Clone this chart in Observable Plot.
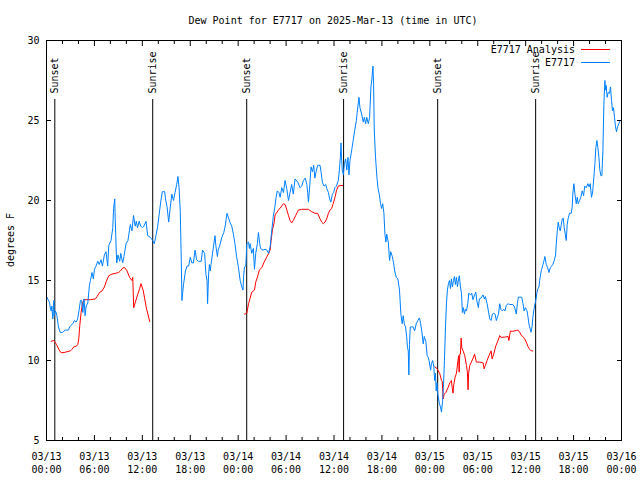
<!DOCTYPE html>
<html><head><meta charset="utf-8">
<script src="https://cdn.jsdelivr.net/npm/d3@7"></script>
<script src="https://cdn.jsdelivr.net/npm/@observablehq/plot@0.6"></script>
<style>body{margin:0;background:#fff}</style>
</head><body><div id="chart"></div>
<script>
const titleText = "Dew Point for E7717 on 2025-Mar-13 (time in UTC)";
const yLabelText = "degrees F";
const seriesNames = ["E7717 Analysis", "E7717"];
const seriesColors = ["#ff0000", "#0080ff"];

// hours since 2025-03-13 00:00 UTC, dew point (F)
const obsHours = [0,0.2,0.375,0.5,0.58,0.67,0.79,0.92,0.96,1.1,1.2,1.3,1.5,1.7,2.0,2.33,2.75,2.9,3.08,3.3,3.5,3.7,3.9,4.1,4.25,4.4,4.55,4.7,4.83,4.96,5.17,5.375,5.5,5.7,5.87,6.0,6.2,6.42,6.6,6.83,7.0,7.25,7.45,7.66,7.8,8.08,8.3,8.4,8.55,8.6,8.75,8.8,8.95,9.17,9.3,9.54,9.7,9.96,10.2,10.375,10.5,10.7,10.9,11.1,11.25,11.4,11.6,11.8,12.0,12.2,12.46,12.67,13.0,13.3,13.5,13.7,13.9,14.1,14.3,14.5,14.8,14.9,15.1,15.3,15.5,15.7,15.9,16.1,16.3,16.46,16.6,16.75,16.875,16.96,17.04,17.17,17.4,17.6,17.8,18.0,18.2,18.4,18.6,18.8,19.04,19.375,19.54,19.8,19.96,20.1,20.17,20.3,20.4,20.5,20.6,20.9,21.1,21.2,21.4,21.5,21.7,21.96,22.2,22.375,22.6,22.8,23.0,23.2,23.4,23.6,23.8,24.04,24.25,24.46,24.6,24.7,24.8,24.96,25.08,25.3,25.4,25.5,25.7,25.9,26.04,26.2,26.4,26.54,26.7,26.8,27.1,27.375,27.6,27.8,28.0,28.2,28.4,28.6,28.75,28.9,29.1,29.25,29.46,29.67,29.875,30.08,30.3,30.5,30.7,30.9,31.125,31.46,31.75,31.96,32.17,32.4,32.6,32.7,32.8,32.96,33.125,33.3,33.46,33.6,33.8,33.96,34.25,34.375,34.54,34.75,34.96,35.1,35.3,35.46,35.6,35.8,35.96,36.1,36.3,36.54,36.67,36.8,36.875,36.96,37.04,37.17,37.3,37.46,37.6,37.75,37.875,38.0,38.2,38.4,38.6,38.8,38.9,39.125,39.25,39.46,39.67,39.8,39.96,40.1,40.3,40.46,40.625,40.75,40.875,40.96,41.04,41.2,41.375,41.5,41.67,41.83,41.96,42.1,42.25,42.375,42.5,42.6,42.8,42.96,43.1,43.3,43.46,43.6,43.8,44.0,44.2,44.375,44.54,44.67,44.8,44.96,45.1,45.2,45.3,45.375,45.45,45.55,45.7,45.9,46.1,46.3,46.5,46.7,46.85,47.0,47.17,47.3,47.5,47.67,47.8,47.9,48.1,48.2,48.35,48.5,48.6,48.7,48.8,48.9,49.0,49.2,49.33,49.46,49.6,49.7,49.83,49.96,50.08,50.2,50.33,50.46,50.58,50.7,50.83,50.96,51.08,51.2,51.33,51.46,51.6,51.7,51.83,51.96,52.08,52.2,52.33,52.45,52.58,52.75,52.875,53.1,53.25,53.4,53.6,53.75,53.9,54.08,54.2,54.4,54.67,54.83,54.96,55.17,55.33,55.5,55.67,55.83,56.0,56.17,56.33,56.45,56.6,56.75,56.9,57.08,57.25,57.4,57.58,57.8,58.0,58.4,58.6,58.83,58.96,59.08,59.3,59.5,59.67,59.8,59.96,60.17,60.3,60.4,60.5,60.67,60.8,60.9,61.04,61.17,61.3,61.42,61.54,61.67,61.75,61.875,62.0,62.17,62.3,62.4,62.58,62.75,62.92,63.08,63.25,63.4,63.58,63.75,63.83,63.96,64.08,64.2,64.33,64.46,64.58,64.7,64.83,64.96,65.08,65.2,65.33,65.5,65.7,65.83,65.9,66.04,66.17,66.33,66.46,66.58,66.75,66.9,67.08,67.25,67.4,67.58,67.79,67.95,68.08,68.25,68.4,68.54,68.67,68.79,68.92,69.04,69.17,69.29,69.42,69.54,69.67,69.79,69.92,70.0,70.08,70.2,70.33,70.5,70.625,70.75,70.875,71.0,71.125,71.25,71.375,71.5,71.67,71.83,72.0];
const obsValues = [14.0,13.8,13.65,13.2,13.1,13.4,12.6,13.75,12.8,13.1,13.0,12.8,12.1,11.77,11.75,11.9,11.9,12.1,12.2,12.3,12.5,12.4,12.6,13.2,13.75,13.75,13.0,13.85,12.8,13.4,13.6,14.7,15.0,15.5,15.1,15.7,15.9,16.2,16.0,16.3,15.9,16.6,16.8,15.9,17.2,17.5,18.3,19.5,20.1,18.9,16.6,16.1,16.6,16.2,16.7,16.1,16.5,17.3,17.5,18.1,18.5,18.1,19.06,18.4,18.7,18.3,18.7,18.4,18.3,18.4,18.7,17.8,17.7,17.5,17.3,17.8,18.3,19.1,19.9,20.55,20.55,20.1,19.6,18.65,19.6,20.4,20.0,20.5,21.0,21.5,20.8,19.3,16.25,13.75,14.2,14.8,15.6,15.9,15.9,16.45,16.1,16.1,16.9,16.3,16.2,16.2,16.9,16.7,15.4,15.0,13.55,15.4,16.0,15.6,16.0,17.1,17.8,17.2,16.5,16.9,17.2,17.7,18.0,18.4,19.2,18.9,18.6,18.4,17.9,17.3,16.5,15.8,15.0,14.6,14.4,15.4,15.85,15.9,17.3,17.4,17.0,17.3,16.7,17.0,15.7,16.7,17.3,18.0,17.3,17.0,16.9,16.95,16.9,16.7,17.1,18.1,19.0,19.6,20.2,20.6,20.5,20.2,20.8,20.5,21.25,20.75,20.0,20.5,21.0,20.4,21.35,21.15,20.8,20.9,21.25,21.4,21.0,20.5,19.9,20.9,22.1,21.8,22.2,21.4,21.9,22.2,22.2,21.8,21.15,20.9,21.0,20.75,20.5,20.1,19.9,20.4,20.5,20.8,20.9,21.25,21.9,22.7,23.6,22.5,21.9,21.6,22.3,22.6,21.9,22.7,21.6,22.5,23.1,23.75,24.4,25.0,25.5,26.45,25.8,25.4,24.9,25.2,24.8,25.2,24.8,25.2,27.1,27.6,28.4,27.25,24.4,22.7,21.45,20.8,20.4,19.8,19.5,19.8,19.2,17.9,17.4,17.9,17.4,16.25,16.8,16.5,16.1,15.6,15.2,15.1,14.4,12.9,12.3,12.8,12.3,12.1,11.5,10.8,10.6,9.1,11.0,12.1,12.1,12.1,11.85,12.3,12.5,12.66,12.3,11.8,11.04,11.5,11.2,10.3,10.2,10.0,9.4,9.8,10.0,9.6,8.75,9.2,8.1,8.6,7.9,7.3,7.1,6.77,7.5,8.3,10.0,12.1,13.55,14.4,14.8,15.0,14.5,15.1,14.6,15.0,15.25,14.75,15.2,14.6,15.1,15.3,14.6,14.2,13.0,13.3,12.9,13.2,13.1,13.55,14.2,14.1,14.2,13.8,14.1,14.27,13.7,13.3,13.85,13.9,14.1,13.85,14.0,13.55,13.1,12.6,12.5,12.9,12.95,12.9,12.5,12.7,12.9,13.55,13.2,13.1,13.2,13.1,13.45,13.55,13.5,13.5,13.35,12.9,13.55,13.96,13.96,13.96,13.55,13.1,13.3,13.1,12.7,12.3,12.1,11.77,12.1,12.7,13.2,13.55,13.85,14.27,14.48,14.6,15.0,15.4,15.7,16.0,16.25,16.5,16.0,15.8,15.5,15.8,15.9,16.0,16.25,16.6,17.3,18.1,18.65,18.3,18.1,18.5,18.85,18.9,18.3,17.9,17.5,18.5,18.9,19.2,19.2,19.6,20.4,21.05,20.4,19.8,20.2,19.8,20.0,20.2,20.6,20.3,20.9,20.8,21.05,20.85,21.05,20.2,20.6,21.45,22.3,23.3,23.75,23.3,22.7,21.9,21.55,21.55,23.1,26.0,27.5,26.9,27.2,26.45,26.75,26.7,27.1,26.25,25.6,25.8,25.2,24.6,24.3,24.6,24.8,25.0,25.0];

// analysis: three separate runs
const anaRun = [1,1,1,1,1,1,1,1,1,1,1,1,1,1,1,1,1,1,1,1,1,1,1,1,1,1,1,1,1,1,1,1,1,1,1,1,1,1,1,1,1,1,1,1,1,
  2,2,2,2,2,2,2,2,2,2,2,2,2,2,2,2,2,2,2,2,2,2,2,2,2,2,2,2,2,2,2,2,2,2,2,2,2,2,2,2,2,2,2,2,2,2,2,2,2,
  3,3,3,3,3,3,3,3,3,3,3,3,3,3,3,3,3,3,3,3,3,3,3,3,3,3,3,3,3,3,3,3,3,3,3,3,3,3,3,3,3,3,3,3,3,3,3,3,3,3,3,3,3,3,3,3,3,3,3,3,3,3,3,3];
const anaHours = [0.58,0.92,1.25,1.54,1.83,2.2,2.58,3.0,3.2,3.42,3.75,3.92,4.04,4.17,4.33,4.5,4.67,5.08,5.5,6.125,6.33,6.67,6.96,7.25,7.5,7.8,8.2,8.625,9.04,9.25,9.58,9.8,10.08,10.4,10.7,10.8,10.92,11.1,11.4,11.67,11.83,12.1,12.3,12.5,12.92,
  24.8,25.08,25.3,25.5,25.7,26.04,26.2,26.4,26.67,26.96,27.25,27.5,27.8,28.0,28.125,28.3,28.5,28.625,29.04,29.375,29.67,29.875,30.1,30.3,30.5,30.7,30.9,31.2,31.54,31.96,32.375,32.8,33.2,33.6,33.96,34.25,34.46,34.67,34.875,35.08,35.3,35.5,35.7,35.9,36.125,36.3,36.54,36.875,37.1,
  48.625,48.9,49.25,49.46,49.55,49.67,49.8,50.0,50.3,50.5,50.7,50.8,50.9,51.0,51.17,51.33,51.5,51.6,51.67,51.75,51.83,51.92,52.0,52.17,52.375,52.58,52.7,52.79,52.85,53.0,53.2,53.42,53.6,53.83,54.25,54.67,54.8,54.96,55.17,55.4,55.67,55.8,56.0,56.25,56.54,56.75,56.9,57.375,57.8,57.9,58.08,58.4,58.83,59.04,59.25,59.46,59.65,59.875,60.08,60.29,60.5,60.7,60.9];
const anaValues = [11.2,11.25,11.0,10.7,10.48,10.5,10.55,10.6,10.7,10.85,10.9,11.0,11.35,12.2,13.0,13.55,13.8,13.8,13.8,13.85,14.0,14.27,14.35,14.6,14.96,15.3,15.4,15.45,15.5,15.6,15.8,15.8,15.6,15.2,15.0,15.2,13.3,13.6,14.1,14.5,14.8,14.4,13.85,13.3,12.44,
  12.9,12.95,13.55,13.9,14.27,14.4,14.9,15.2,15.67,15.8,16.15,16.4,16.67,16.9,17.5,18.2,18.6,19.1,19.4,19.6,19.8,19.75,19.4,19.06,18.75,18.6,18.75,19.06,19.4,19.45,19.45,19.45,19.3,19.2,19.2,18.85,18.65,18.55,18.65,18.85,19.2,19.4,19.5,19.8,20.2,20.6,20.9,20.94,20.94,
  9.6,9.5,9.17,8.75,8.7,7.6,7.9,8.0,8.33,8.6,8.75,8.3,7.96,8.5,8.96,9.2,9.9,10.3,9.27,10.4,10.4,11.4,10.8,10.6,10.3,9.7,9.3,8.17,9.17,9.7,9.9,10.15,10.4,9.9,9.9,9.85,9.48,9.7,10.0,10.3,10.6,10.1,10.4,10.9,11.25,11.56,11.45,11.46,11.5,11.25,11.83,11.83,11.875,11.9,11.77,11.56,11.5,11.35,11.15,10.875,10.7,10.6,10.6];

const sunHours = [1.04, 13.3, 25.07, 37.2, 48.98, 61.25];
const sunLabels = ["Sunset", "Sunrise", "Sunset", "Sunrise", "Sunset", "Sunrise"];

const xTickHours = [0, 6, 12, 18, 24, 30, 36, 42, 48, 54, 60, 66, 72];
const xTickDates = ["03/13","03/13","03/13","03/13","03/14","03/14","03/14","03/14","03/15","03/15","03/15","03/15","03/16"];
const xTickTimes = ["00:00","06:00","12:00","18:00","00:00","06:00","12:00","18:00","00:00","06:00","12:00","18:00","00:00"];
const xMinorHours = d3.range(0, 73, 2).filter(h => h % 6 !== 0);
const yTicks = [5, 10, 15, 20, 25, 30];

const obs = obsHours.map((h, i) => ({h, v: obsValues[i]}));
const ana = anaHours.map((h, i) => ({h, v: anaValues[i], run: anaRun[i]}));
const sun = sunHours.map((h, i) => ({h, label: sunLabels[i]}));
const fmtX = h => { const i = xTickHours.indexOf(h); return xTickDates[i] + "\n" + xTickTimes[i]; };
const blank = () => "";
const FONT = "DejaVu Sans Mono";

const chart = Plot.plot({
  width: 640, height: 480,
  marginTop: 40, marginBottom: 40, marginLeft: 46, marginRight: 19,
  x: {domain: [0, 72]},
  y: {domain: [5, 30]},
  style: {fontFamily: FONT, fontSize: "10px", background: "white", color: "black"},
  marks: [
    Plot.ruleX(sun, {x: "h", stroke: "black", strokeWidth: 1, insetTop: 59}),
    Plot.text(sun, {x: "h", text: "label", frameAnchor: "top", dy: 53, rotate: -90, textAnchor: "start", lineAnchor: "middle", fill: "black", fontSize: 10}),
    Plot.line(ana, {x: "h", y: "v", z: "run", stroke: seriesColors[0], strokeWidth: 1}),
    Plot.line(obs, {x: "h", y: "v", stroke: seriesColors[1], strokeWidth: 1}),
    Plot.frame({stroke: "black", strokeWidth: 1}),
    Plot.axisX({anchor: "bottom", ticks: xTickHours, tickSize: -5, tickPadding: 15, tickFormat: fmtX, lineHeight: 1.33, label: null}),
    Plot.axisX({anchor: "bottom", ticks: xMinorHours, tickSize: -3, tickFormat: blank, label: null}),
    Plot.axisX({anchor: "top", ticks: xTickHours, tickSize: -5, tickFormat: blank, label: null}),
    Plot.axisX({anchor: "top", ticks: xMinorHours, tickSize: -3, tickFormat: blank, label: null}),
    Plot.axisY({anchor: "left", ticks: yTicks, tickSize: -5, tickPadding: 12, label: null}),
    Plot.axisY({anchor: "right", ticks: yTicks, tickSize: -5, tickFormat: blank, label: null})
  ]
});
document.getElementById("chart").appendChild(chart);

const svg = d3.select(chart);
svg.append("text").attr("x", 333).attr("y", 24).attr("text-anchor", "middle")
  .attr("font-family", FONT).attr("font-size", 10).attr("fill", "black").text(titleText);
svg.append("text").attr("transform", "translate(14,240) rotate(-90)").attr("text-anchor", "middle")
  .attr("font-family", FONT).attr("font-size", 10).attr("fill", "black").text(yLabelText);
const legendY = [49.5, 62.5];
seriesNames.forEach((name, i) => {
  svg.append("text").attr("x", 575).attr("y", legendY[i] + 3.7).attr("text-anchor", "end")
    .attr("font-family", FONT).attr("font-size", 10).attr("fill", "black").text(name);
  svg.append("line").attr("x1", 581).attr("x2", 610).attr("y1", legendY[i]).attr("y2", legendY[i])
    .attr("stroke", seriesColors[i]).attr("stroke-width", 1);
});
</script>
</body></html>
